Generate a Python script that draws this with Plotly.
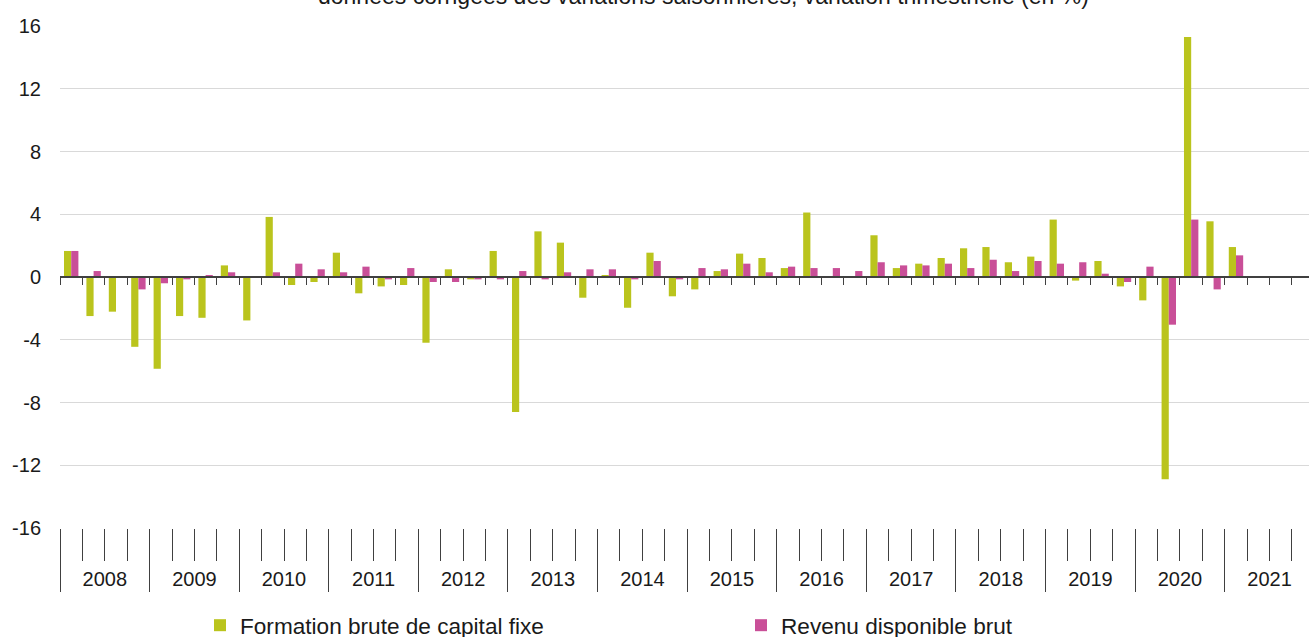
import plotly.graph_objects as go

years = ["2008", "2009", "2010", "2011", "2012", "2013", "2014",
         "2015", "2016", "2017", "2018", "2019", "2020", "2021"]
quarters = ["T1", "T2", "T3", "T4"]

# variation trimestrielle (en %), 2008T1 -> 2021T4
fbcf = [1.66, -2.49, -2.21, -4.45,
        -5.85, -2.49, -2.6, 0.74,
        -2.77, 3.83, -0.51, -0.32,
        1.55, -1.04, -0.6, -0.51,
        -4.19, 0.49, -0.15, 1.66,
        -8.6, 2.91, 2.19, -1.32,
        0.1, -1.96, 1.55, -1.23,
        -0.79, 0.38, 1.49, 1.21,
        0.57, 4.11, 0.0, 0.0,
        2.66, 0.57, 0.85, 1.21,
        1.83, 1.91, 0.94, 1.3,
        3.66, -0.23, 1.02, -0.6,
        -1.49, -12.9, 15.3, 3.55,
        1.91, None, None, None]

rdb = [1.66, 0.38, 0.0, -0.79,
       -0.4, -0.15, 0.1, 0.3,
       0.0, 0.3, 0.85, 0.49,
       0.3, 0.66, -0.15, 0.57,
       -0.32, -0.32, -0.15, -0.15,
       0.38, -0.15, 0.3, 0.49,
       0.49, -0.15, 1.02, -0.15,
       0.57, 0.49, 0.85, 0.3,
       0.66, 0.57, 0.57, 0.38,
       0.94, 0.74, 0.74, 0.85,
       0.57, 1.1, 0.38, 1.02,
       0.85, 0.94, 0.21, -0.32,
       0.66, -3.04, 3.66, -0.79,
       1.38, None, None, None]

series_names = ["Formation brute de capital fixe", "Revenu disponible brut"]
colors = ["#BAC41D", "#C94F98"]

y_ticks = [-16, -12, -8, -4, 0, 4, 8, 12, 16]
y_ticktext = [str(v) for v in y_ticks]
title_text = "données corrigées des variations saisonnières, variation trimestrielle (en %)"

n = len(years) * len(quarters)
xpos = list(range(n))
x_range = [-0.5, 55.26]
quarter_bounds = [i - 0.5 for i in range(n + 1)]
year_bounds = [b for i, b in enumerate(quarter_bounds) if i % 4 == 0]
minor_bounds = [b for i, b in enumerate(quarter_bounds) if i % 4 != 0]
year_centers = [4 * k + 1.5 for k in range(len(years))]

FONT = "Liberation Sans, Arial, sans-serif"
TXT = "#1a1a1a"
TICK = "#404040"

fig = go.Figure()
for name, vals, col in zip(series_names, [fbcf, rdb], colors):
    fig.add_trace(go.Bar(x=xpos, y=vals, name=name, marker_color=col,
                         marker_line_width=0))
# empty helper traces so that the overlaying axes get drawn
for ax in ["x2", "x3"]:
    fig.add_trace(go.Scatter(x=[], y=[], xaxis=ax, yaxis="y",
                             showlegend=False, hoverinfo="skip"))

fig.update_layout(
    width=1309, height=637,
    margin=dict(l=60, r=0, t=26, b=109, autoexpand=False),
    paper_bgcolor="white", plot_bgcolor="white",
    barmode="group", bargap=0.357, bargroupgap=0,
    font=dict(family=FONT, size=20, color=TXT),
    showlegend=True,
    legend=dict(orientation="h", xref="container", yref="container",
                x=200 / 1309, xanchor="left",
                y=(637 - 604) / 637, yanchor="top", entrywidth=496,
                font=dict(size=22.6, color=TXT), itemwidth=30,
                bgcolor="rgba(0,0,0,0)"),
    yaxis=dict(range=[-16, 16], tickmode="array", tickvals=y_ticks,
               ticktext=y_ticktext, ticks="",
               ticklabelstandoff=18, showgrid=True, gridcolor="#D9D9D9",
               gridwidth=1, zeroline=False, showline=False,
               tickfont=dict(size=20, color=TXT), fixedrange=True),
    xaxis=dict(range=x_range, tickmode="array", tickvals=year_bounds,
               showticklabels=False, ticks="outside", ticklen=63,
               tickwidth=1, tickcolor=TICK, showgrid=False, zeroline=False,
               showline=False,
               minor=dict(tickmode="array", tickvals=minor_bounds,
                          ticks="outside", ticklen=32, tickwidth=1,
                          tickcolor=TICK, showgrid=False)),
    xaxis2=dict(range=x_range, overlaying="x", anchor="free", position=0.5,
                tickmode="array", tickvals=quarter_bounds,
                showticklabels=False, ticks="outside", ticklen=7,
                tickwidth=1.3, tickcolor=TICK, showline=True,
                linecolor=TICK, linewidth=1.5, showgrid=False,
                zeroline=False),
    xaxis3=dict(range=x_range, overlaying="x", anchor="y", side="bottom",
                tickmode="array", tickvals=year_centers, ticktext=years,
                ticks="outside", ticklen=33, tickcolor="rgba(0,0,0,0)",
                showgrid=False, zeroline=False, showline=False,
                tickfont=dict(size=20, color=TXT)),
)

fig.add_annotation(text=title_text, xref="paper", yref="paper",
                   x=(703 - 60) / 1249, y=1, xanchor="center",
                   yanchor="bottom", yshift=15, showarrow=False,
                   font=dict(size=23, color=TXT, family=FONT))

fig.write_html("out.html",
               config={"displayModeBar": False},
               post_script="document.body.style.margin='0';"
                           "document.body.style.overflow='hidden';")
